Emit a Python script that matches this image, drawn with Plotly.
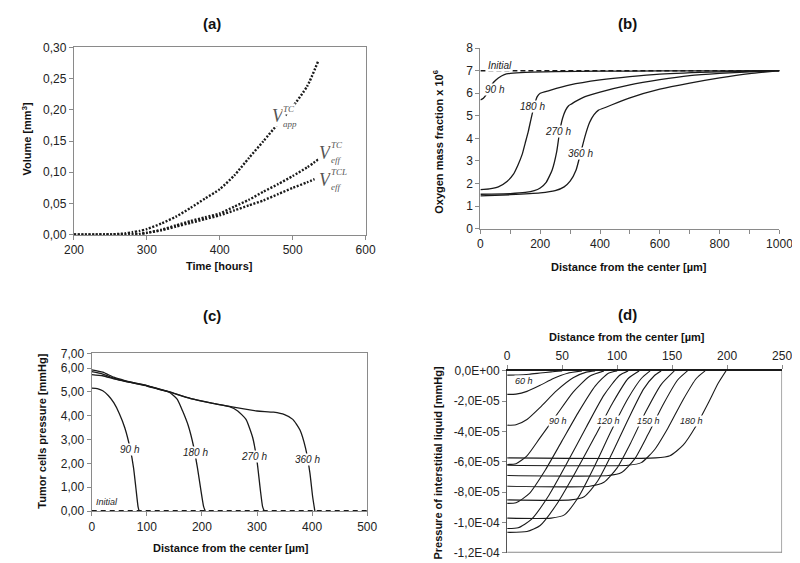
import plotly.graph_objects as go

W, H = 800, 563
FONT = "Liberation Sans"
INK = "#1a1a1a"
AX = "#8a8a8a"

# ---------------- Panel (a): volume vs time ----------------
a_t_app = [200, 250, 270, 280, 290, 300, 320, 340, 360, 380, 400, 420, 440, 460, 480, 500, 520, 535]
a_v_app = [0, 0.0005, 0.002, 0.004, 0.006, 0.009, 0.018, 0.029, 0.043, 0.058, 0.073, 0.095, 0.123, 0.150, 0.178, 0.205, 0.238, 0.278]
a_t_eff = [200, 280, 290, 300, 320, 340, 360, 380, 400, 420, 440, 460, 480, 500, 520, 538]
a_v_eff = [0, 0.0003, 0.001, 0.003, 0.008, 0.015, 0.022, 0.028, 0.034, 0.045, 0.056, 0.069, 0.081, 0.094, 0.108, 0.123]
a_t_effl = [200, 280, 290, 300, 320, 340, 360, 380, 400, 420, 440, 460, 480, 500, 520, 530]
a_v_effl = [0, 0.0003, 0.001, 0.003, 0.007, 0.013, 0.019, 0.025, 0.031, 0.039, 0.047, 0.055, 0.065, 0.075, 0.084, 0.089]
a_xticks = [200, 300, 400, 500, 600]
a_yticks = [0, 0.05, 0.10, 0.15, 0.20, 0.25, 0.30]
a_ylabels = ["0,00", "0,05", "0,10", "0,15", "0,20", "0,25", "0,30"]

# ---------------- Panel (b): oxygen ----------------
b_x_init = [0, 1000]
b_y_init = [7, 7]
b_x_90 = [0, 10, 20, 30, 45, 60, 80, 100, 150, 250, 400, 600, 800, 1000]
b_y_90 = [5.7, 5.78, 5.95, 6.2, 6.5, 6.68, 6.83, 6.88, 6.93, 6.96, 6.98, 6.99, 6.995, 7.0]
b_x_180 = [0, 30, 60, 90, 110, 125, 140, 150, 160, 170, 180, 190, 200, 230, 300, 400, 500, 600, 800, 1000]
b_y_180 = [1.73, 1.76, 1.85, 2.1, 2.4, 2.8, 3.3, 3.8, 4.3, 4.9, 5.45, 5.85, 6.0, 6.12, 6.37, 6.59, 6.74, 6.85, 6.95, 7.0]
b_x_270 = [0, 100, 150, 180, 200, 220, 240, 255, 265, 275, 285, 295, 305, 320, 350, 400, 500, 600, 700, 800, 900, 1000]
b_y_270 = [1.52, 1.55, 1.6, 1.68, 1.8, 2.05, 2.6, 3.4, 4.3, 4.9, 5.25, 5.45, 5.53, 5.65, 5.85, 6.05, 6.37, 6.6, 6.78, 6.88, 6.95, 7.0]
b_x_360 = [0, 100, 200, 250, 280, 300, 320, 335, 350, 365, 380, 395, 420, 460, 500, 600, 700, 800, 900, 1000]
b_y_360 = [1.45, 1.5, 1.58, 1.68, 1.85, 2.1, 2.6, 3.34, 4.1, 4.7, 5.05, 5.25, 5.38, 5.6, 5.8, 6.18, 6.45, 6.68, 6.87, 7.0]
b_xticks = [0, 200, 400, 600, 800, 1000]
b_yticks = [0, 1, 2, 3, 4, 5, 6, 7, 8]

# ---------------- Panel (c): tumor cells pressure ----------------
c_x_init = [0, 500]
c_y_init = [0, 0]
c_x_90 = [0, 10, 20, 30, 40, 50, 60, 70, 76, 80, 84, 86]
c_y_90 = [5.16, 5.14, 5.05, 4.85, 4.55, 4.1, 3.5, 2.6, 1.8, 1.0, 0.2, 0]
c_x_180 = [0, 20, 40, 60, 80, 100, 120, 140, 155, 165, 175, 185, 192, 198, 203, 206]
c_y_180 = [5.73, 5.68, 5.55, 5.45, 5.35, 5.25, 5.12, 5.0, 4.7, 4.2, 3.6, 2.7, 1.8, 0.9, 0.2, 0]
c_x_270 = [0, 20, 40, 60, 80, 100, 140, 180, 220, 250, 265, 280, 292, 300, 306, 310, 313]
c_y_270 = [5.85, 5.75, 5.58, 5.46, 5.36, 5.27, 5.01, 4.72, 4.52, 4.38, 4.2, 3.85, 3.1, 2.1, 0.9, 0.2, 0]
c_x_360 = [0, 20, 40, 60, 80, 100, 140, 180, 220, 260, 300, 330, 350, 365, 378, 388, 396, 401, 405]
c_y_360 = [5.93, 5.83, 5.62, 5.48, 5.37, 5.27, 5.0, 4.72, 4.52, 4.35, 4.2, 4.15, 4.05, 3.85, 3.4, 2.65, 1.6, 0.6, 0]
c_xticks = [0, 100, 200, 300, 400, 500]
c_yticks = [0, 1, 2, 3, 4, 5, 6, 6.62]
c_ylabels = ["0,00", "1,00", "2,00", "3,00", "4,00", "5,00", "6,00", "7,00"]

# ---------------- Panel (d): interstitial liquid pressure (x 1e-5 mmHg) ----------------
d_times = ["60 h", "70 h", "80 h", "90 h", "100 h", "110 h", "120 h", "130 h", "140 h", "150 h", "160 h", "170 h", "180 h"]
d_x = [
    [0, 10, 20, 30, 40, 50],
    [0, 8, 18, 30, 42, 55, 68],
    [0, 8, 18, 30, 45, 60, 72, 80],
    [0, 8, 18, 30, 45, 60, 75, 88],
    [0, 8, 20, 35, 50, 65, 80, 92, 100],
    [0, 10, 22, 38, 55, 72, 88, 102, 110],
    [0, 18, 30, 45, 62, 80, 96, 110, 120],
    [0, 40, 52, 65, 80, 95, 110, 122, 130],
    [0, 58, 70, 82, 95, 110, 124, 134, 140],
    [0, 75, 88, 100, 112, 126, 140, 152],
    [0, 92, 104, 116, 128, 142, 155, 164],
    [0, 110, 122, 134, 146, 160, 172, 180],
    [0, 135, 148, 160, 172, 183, 192, 199],
]
d_p = [
    [-0.28, -0.27, -0.22, -0.14, -0.06, 0],
    [-1.55, -1.53, -1.35, -0.95, -0.5, -0.15, 0],
    [-3.58, -3.55, -3.2, -2.4, -1.3, -0.45, -0.08, 0],
    [-6.17, -6.12, -5.6, -4.4, -2.9, -1.4, -0.35, 0],
    [-8.74, -8.7, -8.1, -6.5, -4.6, -2.7, -1.0, -0.15, 0],
    [-10.4, -10.35, -9.8, -8.2, -6.0, -3.7, -1.6, -0.3, 0],
    [-10.65, -10.6, -10.2, -8.8, -6.7, -4.3, -2.1, -0.5, 0],
    [-9.71, -9.71, -9.5, -8.3, -6.2, -3.9, -1.8, -0.5, 0],
    [-8.51, -8.51, -8.3, -7.3, -5.5, -3.2, -1.2, -0.3, 0],
    [-7.61, -7.61, -7.35, -6.4, -4.8, -2.7, -0.9, 0],
    [-6.90, -6.90, -6.7, -5.8, -4.2, -2.2, -0.6, 0],
    [-6.22, -6.22, -6.05, -5.2, -3.8, -1.9, -0.5, 0],
    [-5.74, -5.74, -5.6, -4.9, -3.6, -2.1, -0.8, 0],
]
d_xticks = [0, 50, 100, 150, 200, 250]
d_yticks = [0, -2e-5, -4e-5, -6e-5, -8e-5, -1e-4, -1.2e-4]
d_ylabels = ["0,0E+00", "-2,0E-05", "-4,0E-05", "-6,0E-05", "-8,0E-05", "-1,0E-04", "-1,2E-04"]


def dx(X):
    return X / W


def dy(Y):
    return 1 - Y / H


fig = go.Figure()
solid = dict(color=INK, width=1.3)

# panel a traces
for t, v in [(a_t_app, a_v_app), (a_t_eff, a_v_eff), (a_t_effl, a_v_effl)]:
    fig.add_trace(go.Scatter(x=t, y=v, mode="lines", line=dict(color=INK, width=2.4, dash="2px,1.6px", shape="spline", smoothing=0.6),
                             xaxis="x", yaxis="y", showlegend=False, hoverinfo="skip"))

# panel b traces
fig.add_trace(go.Scatter(x=b_x_init, y=b_y_init, mode="lines", line=dict(color=INK, width=1.4, dash="5px,3px"),
                         xaxis="x2", yaxis="y2", showlegend=False))
for xs, ys in [(b_x_90, b_y_90), (b_x_180, b_y_180), (b_x_270, b_y_270), (b_x_360, b_y_360)]:
    fig.add_trace(go.Scatter(x=xs, y=ys, mode="lines", line=dict(shape="spline", smoothing=0.5, **solid),
                             xaxis="x2", yaxis="y2", showlegend=False))

# panel c traces
fig.add_trace(go.Scatter(x=c_x_init, y=c_y_init, mode="lines", line=dict(color=INK, width=2, dash="5px,4px"),
                         xaxis="x3", yaxis="y3", showlegend=False))
for xs, ys in [(c_x_90, c_y_90), (c_x_180, c_y_180), (c_x_270, c_y_270), (c_x_360, c_y_360)]:
    fig.add_trace(go.Scatter(x=xs, y=ys, mode="lines", line=dict(shape="spline", smoothing=0.5, **solid),
                             xaxis="x3", yaxis="y3", showlegend=False))

# panel d traces
for xs, ps in zip(d_x, d_p):
    fig.add_trace(go.Scatter(x=xs, y=[p * 1e-5 for p in ps], mode="lines",
                             line=dict(shape="spline", smoothing=0.6, color=INK, width=1.1),
                             xaxis="x4", yaxis="y4", showlegend=False))

tickfont = dict(family=FONT, size=12, color="#222")
base = dict(showline=True, linecolor=AX, linewidth=1.2, ticks="outside", ticklen=4, tickcolor=AX,
            showgrid=False, zeroline=False, tickfont=tickfont, fixedrange=True)

fig.update_layout(
    width=W, height=H, margin=dict(l=0, r=0, t=0, b=0),
    paper_bgcolor="white", plot_bgcolor="white",
    xaxis=dict(base, domain=[dx(57.7), dx(358.3)], range=[200, 600], tickvals=a_xticks, anchor="y", mirror=True),
    yaxis=dict(base, domain=[dy(225.3), dy(33.3)], range=[0, 0.30], tickvals=a_yticks, ticktext=a_ylabels, anchor="x", mirror=True),
    xaxis2=dict(base, domain=[dx(476.7), dx(785)], range=[0, 1000], tickvals=b_xticks, anchor="y2",
                minor=dict(dtick=100, tick0=0, ticks="outside", ticklen=4, tickcolor=AX, showgrid=False)),
    yaxis2=dict(base, domain=[dy(219), dy(34)], range=[0, 8], tickvals=b_yticks, anchor="x2"),
    xaxis3=dict(base, domain=[dx(76), dx(360)], range=[0, 500], tickvals=c_xticks, anchor="y3", mirror=True),
    yaxis3=dict(base, domain=[dy(508.7), dy(347)], range=[0, 6.62], tickvals=c_yticks, ticktext=c_ylabels, anchor="x3", mirror=True),
    xaxis4=dict(base, domain=[dx(504.3), dx(787.7)], range=[0, 250], tickvals=d_xticks, anchor="y4", side="top",
                linecolor=INK, linewidth=1.5),
    yaxis4=dict(base, domain=[dy(551.5), dy(365)], range=[-1.2e-4, 0], tickvals=d_yticks, ticktext=d_ylabels, anchor="x4",
                linecolor="#555"),
)

# frame for panel d (right and bottom borders)
fig.add_shape(type="line", xref="x4", yref="y4", x0=250, x1=250, y0=-1.2e-4, y1=0, line=dict(color=AX, width=1.5))
fig.add_shape(type="line", xref="x4", yref="y4", x0=0, x1=250, y0=-1.2e-4, y1=-1.2e-4, line=dict(color=AX, width=2))

ann = []


def paper_text(text, X, Y, size=11, bold=True, angle=0):
    ann.append(dict(text=f"<b>{text}</b>" if bold else text, x=dx(X), y=dy(Y), xref="paper", yref="paper",
                    showarrow=False, textangle=angle, xanchor="center", yanchor="middle",
                    font=dict(family=FONT, size=size, color="#111")))


# panel titles
paper_text("(a)", 200, 9, size=15)
paper_text("(b)", 628, 9, size=15)
paper_text("(c)", 200, 308, size=15)
paper_text("(d)", 628, 307, size=15)
# axis titles
paper_text("Time [hours]", 208, 257)
paper_text("Volume [mm<sup>3</sup>]", 9, 127, angle=-90)
paper_text("Distance from the center [µm]", 630, 258)
paper_text("Oxygen mass fraction x 10<sup>6</sup>", 433, 130, angle=-90)
paper_text("Distance from the center [µm]", 220, 547)
paper_text("Tumor cells pressure [mmHg]", 25, 427, angle=-90)
paper_text("Distance from the center [µm]", 628, 330)
paper_text("Pressure of interstitial liquid [mmHg]", 433, 460, angle=-90)


def curve_label(text, x, y, xr, yr, size=10):
    ann.append(dict(text=f"<i>{text}</i>", x=x, y=y, xref=xr, yref=yr, showarrow=False,
                    bgcolor="white", borderpad=0, font=dict(family=FONT, size=size, color="#222")))


curve_label("Initial", 65, 7.25, "x2", "y2")
curve_label("90 h", 48, 6.15, "x2", "y2")
curve_label("180 h", 173, 5.43, "x2", "y2")
curve_label("270 h", 261, 4.32, "x2", "y2")
curve_label("360 h", 335, 3.34, "x2", "y2")

curve_label("Initial", 28, 0.36, "x3", "y3", size=9)
curve_label("90 h", 69, 2.6, "x3", "y3")
curve_label("180 h", 189, 2.45, "x3", "y3")
curve_label("270 h", 295, 2.27, "x3", "y3")
curve_label("360 h", 391, 2.17, "x3", "y3")

curve_label("60 h", 15, -0.64e-5, "x4", "y4", size=9)
curve_label("90 h", 46, -3.32e-5, "x4", "y4", size=9)
curve_label("120 h", 92, -3.32e-5, "x4", "y4", size=9)
curve_label("150 h", 128.5, -3.32e-5, "x4", "y4", size=9)
curve_label("180 h", 168, -3.32e-5, "x4", "y4", size=9)

# panel a volume labels (V with super/subscripts)
SERIF = "Liberation Serif"


def vlabel(x, y, sup, sub):
    ann.append(dict(text="<i>V</i>", x=x, y=y, xref="x", yref="y", showarrow=False, xanchor="center",
                    bgcolor="white", borderpad=0, font=dict(family=SERIF, size=18, color="#555")))
    ann.append(dict(text=f"<i>{sup}</i>", x=x + 6, y=y + 0.012, xref="x", yref="y", showarrow=False, xanchor="left",
                    bgcolor="white", borderpad=0, font=dict(family=SERIF, size=9, color="#555")))
    ann.append(dict(text=f"<i>{sub}</i>", x=x + 6, y=y - 0.012, xref="x", yref="y", showarrow=False, xanchor="left",
                    bgcolor="white", borderpad=0, font=dict(family=SERIF, size=9, color="#555")))


vlabel(480, 0.1895, "TC", "app")
vlabel(545, 0.1317, "TC", "eff")
vlabel(545, 0.088, "TCL", "eff")

fig.update_layout(annotations=ann)
fig.write_html("out.html")
